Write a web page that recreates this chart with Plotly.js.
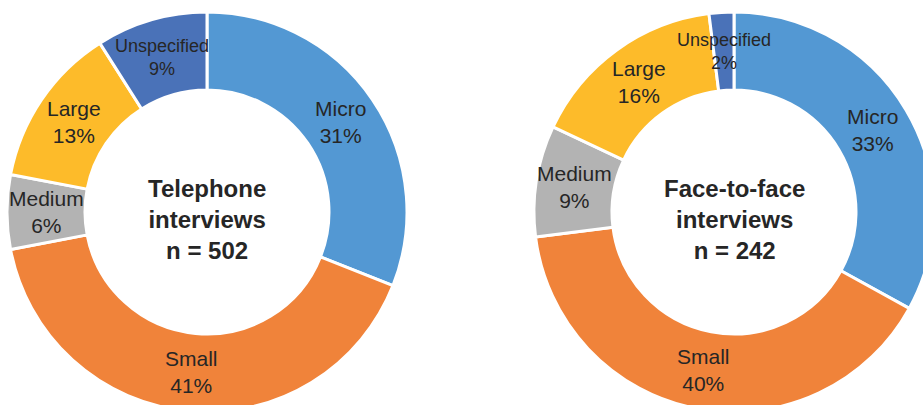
<!DOCTYPE html>
<html>
<head>
<meta charset="utf-8">
<script src="https://cdn.plot.ly/plotly-3.0.1.min.js"></script>
<style>
html, body { margin: 0; padding: 0; overflow: hidden; background: #ffffff; width: 923px; height: 405px; }
#chart { width: 940px; height: 430px; }
</style>
</head>
<body>
<div id="chart"></div>
<script>
// ---- data ----
var categories = ["Micro", "Small", "Medium", "Large", "Unspecified"];
var telephoneValues = [31, 41, 6, 13, 9];
var faceValues = [33, 40, 9, 16, 2];
var telephoneTitle = "Telephone<br>interviews<br>n = 502";
var faceTitle = "Face-to-face<br>interviews<br>n = 242";
var sliceColors = ["#5398D3", "#F0833A", "#B3B3B3", "#FDBB2A", "#4A72B8"];

// ---- layout geometry ----
var W = 940, H = 430;
var R = 200, HOLE = 0.61;
var centers = [{x: 207, y: 212}, {x: 734, y: 212}];

function domainFor(c) {
  return {
    x: [(c.x - R) / W, (c.x + R) / W],
    y: [(H - c.y - R) / H, (H - c.y + R) / H]
  };
}

function pieTrace(values, c) {
  return {
    type: "pie",
    values: values,
    labels: categories,
    sort: false,
    direction: "clockwise",
    rotation: 0,
    hole: HOLE,
    domain: domainFor(c),
    marker: {colors: sliceColors, line: {color: "#ffffff", width: 3}},
    textinfo: "none",
    hoverinfo: "label+percent",
    showlegend: false
  };
}

function labelAnnotations(values, c) {
  var total = values.reduce(function (a, b) { return a + b; }, 0);
  var cum = 0, out = [];
  var rMid = R * (1 + HOLE) / 2;
  for (var i = 0; i < values.length; i++) {
    var frac = values[i] / total;
    var mid = (cum + frac / 2) * 2 * Math.PI;
    cum += frac;
    var px = c.x + rMid * Math.sin(mid);
    var py = c.y - rMid * Math.cos(mid);
    var small = categories[i] === "Unspecified";
    out.push({
      xref: "paper", yref: "paper",
      x: px / W, y: (H - py) / H,
      xanchor: "center", yanchor: "middle",
      showarrow: false,
      align: "center",
      text: categories[i] + "<br>" + Math.round(frac * 100) + "%",
      font: {family: "Liberation Sans, Arial, sans-serif", size: small ? 18 : 21, color: "#262626"}
    });
  }
  return out;
}

function centerAnnotation(text, c) {
  return {
    xref: "paper", yref: "paper",
    x: c.x / W, y: (H - c.y) / H,
    xanchor: "center", yanchor: "middle",
    yshift: -8,
    showarrow: false, align: "center",
    text: "<b>" + text.split("<br>").join("</b><br><b>") + "</b>",
    font: {family: "Liberation Sans, Arial, sans-serif", size: 24, color: "#262626"}
  };
}

var data = [pieTrace(telephoneValues, centers[0]), pieTrace(faceValues, centers[1])];
var annotations = labelAnnotations(telephoneValues, centers[0])
  .concat(labelAnnotations(faceValues, centers[1]))
  .concat([centerAnnotation(telephoneTitle, centers[0]), centerAnnotation(faceTitle, centers[1])]);

var layout = {
  width: W, height: H,
  margin: {l: 0, r: 0, t: 0, b: 0, pad: 0},
  paper_bgcolor: "#ffffff",
  plot_bgcolor: "#ffffff",
  showlegend: false,
  annotations: annotations,
  font: {family: "Liberation Sans, Arial, sans-serif"}
};

Plotly.newPlot("chart", data, layout, {displayModeBar: false, staticPlot: true});
</script>
</body>
</html>
